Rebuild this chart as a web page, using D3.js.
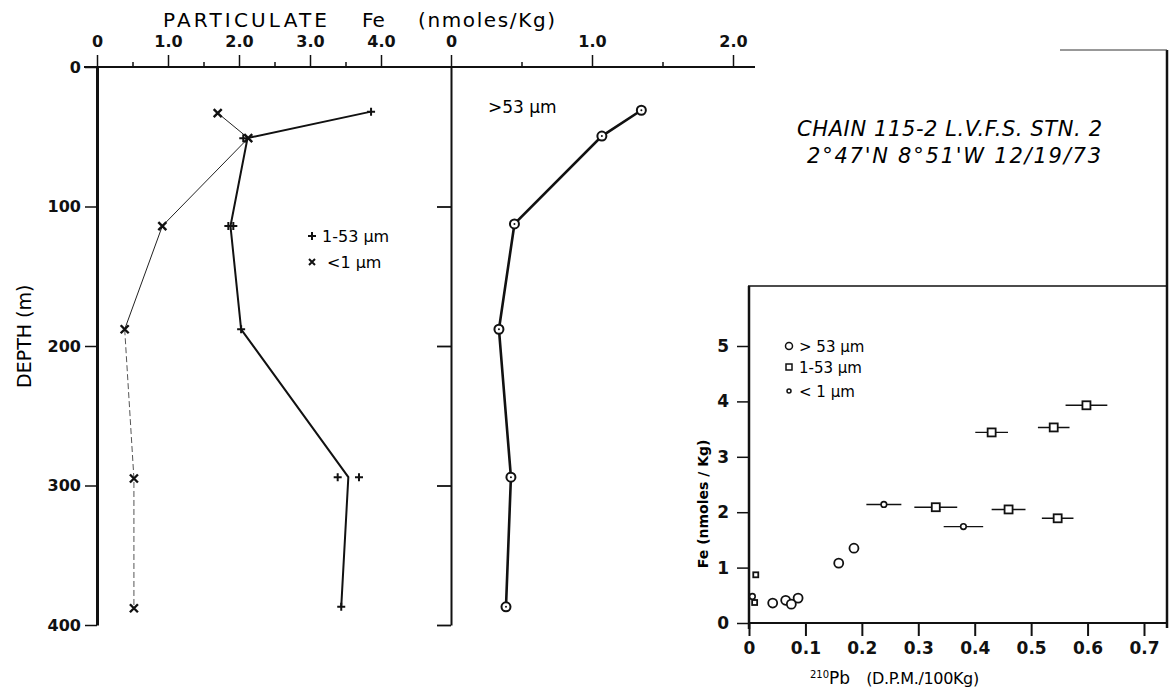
<!DOCTYPE html>
<html>
<head>
<meta charset="utf-8">
<script src="https://cdn.jsdelivr.net/npm/d3@7"></script>
<style>
  body { margin: 0; background: #fff; }
  svg { font-family: "DejaVu Sans", sans-serif; }
  .axis path, .axis line { stroke: #111; }
  .axis text { fill: #111; font-family: "DejaVu Sans", sans-serif; font-weight: bold; }
</style>
</head>
<body>
<div id="chart"></div>
<script>
// depth profile, 1-53 um (plus markers, replicate points)
const plusDepth = [32, 51, 114, 114, 188, 294, 294, 387];
const plusFe    = [3.86, 2.06, 1.85, 1.92, 2.03, 3.39, 3.69, 3.44];
const plusLineDepth = [32, 51, 114, 188, 294, 387];
const plusLineFe    = [3.86, 2.12, 1.88, 2.03, 3.54, 3.44];

// depth profile, <1 um (cross markers)
const crossDepth = [33, 51, 114, 188, 295, 388];
const crossFe    = [1.70, 2.13, 0.92, 0.39, 0.52, 0.52];

// depth profile, >53 um (right panel)
const bigDepth = [31, 49.5, 112.5, 188, 294, 387];
const bigFe    = [1.35, 1.07, 0.45, 0.34, 0.425, 0.39];

// inset: Fe vs 210Pb
const sBigPb = [0.159, 0.186, 0.087, 0.065, 0.075, 0.042];
const sBigFe = [1.08, 1.35, 0.45, 0.41, 0.34, 0.36];
const sMidPb  = [0.598, 0.54, 0.43, 0.331, 0.46, 0.547, 0.012, 0.010];
const sMidFe  = [3.93, 3.53, 3.44, 2.09, 2.05, 1.89, 0.87, 0.37];
const sMidErr = [0.037, 0.028, 0.029, 0.038, 0.030, 0.028, 0, 0];
const sSmallPb  = [0.239, 0.38, 0.006];
const sSmallFe  = [2.14, 1.74, 0.48];
const sSmallErr = [0.031, 0.035, 0];

const depthTicks = [0, 100, 200, 300, 400];
const pbTicks = [0, 0.1, 0.2, 0.3, 0.4, 0.5, 0.6, 0.7];
const feTicks = [0, 1, 2, 3, 4, 5];

const W = 1170, H = 692;
const svg = d3.select("#chart").append("svg")
  .attr("width", W).attr("height", H);

const xL = d3.scaleLinear().domain([0, 4]).range([97, 381]);
const xR = d3.scaleLinear().domain([0, 2]).range([451, 733]);
const yD = d3.scaleLinear().domain([0, 400]).range([67, 625]);
const xS = d3.scaleLinear().domain([0, 0.7]).range([749, 1144]);
const yS = d3.scaleLinear().domain([0, 5]).range([623, 346]);

// title
svg.append("text").attr("x", 163).attr("y", 27).attr("font-size", 20)
  .attr("textLength", 164).text("PARTICULATE");
svg.append("text").attr("x", 362).attr("y", 27).attr("font-size", 20).text("Fe");
svg.append("text").attr("x", 418).attr("y", 27).attr("font-size", 20)
  .attr("textLength", 137).text("(nmoles/Kg)");

// top axis line across both panels
svg.append("line").attr("x1", 84).attr("x2", 755).attr("y1", yD(0)).attr("y2", yD(0))
  .attr("stroke", "#111").attr("stroke-width", 2.2);

function topAxis(x, major, minor) {
  const g = svg.append("g").attr("class", "axis")
    .attr("transform", `translate(0,${yD(0)})`);
  g.call(d3.axisTop(x).tickValues(minor).tickSize(5).tickFormat(""))
    .select(".domain").remove();
  const g2 = svg.append("g").attr("class", "axis")
    .attr("transform", `translate(0,${yD(0)})`);
  g2.call(d3.axisTop(x).tickValues(major).tickSize(12).tickPadding(8)
      .tickFormat(d => d === 0 ? "0" : d3.format(".1f")(d)))
    .select(".domain").remove();
  g.selectAll("line").attr("stroke-width", 1.5);
  g2.selectAll("line").attr("stroke-width", 1.5);
  g2.selectAll("text").style("font-size", "16px");
}
topAxis(xL, [0, 1, 2, 3, 4], [0.5, 1.5, 2.5, 3.5]);
topAxis(xR, [0, 1, 2], [0.5, 1.5]);

// depth axes
const yAxL = svg.append("g").attr("class", "axis")
  .attr("transform", `translate(${xL(0)},0)`)
  .call(d3.axisLeft(yD).tickValues(depthTicks).tickSize(12).tickSizeOuter(0).tickPadding(4));
yAxL.select(".domain").attr("stroke-width", 3);
yAxL.selectAll("line").attr("stroke-width", 1.5);
yAxL.selectAll("text").style("font-size", "16px");

const yAxR = svg.append("g").attr("class", "axis")
  .attr("transform", `translate(${xR(0)},0)`)
  .call(d3.axisLeft(yD).tickValues(depthTicks.slice(1)).tickSize(14).tickSizeOuter(0).tickFormat(""));
yAxR.select(".domain").attr("stroke-width", 2);
yAxR.selectAll("line").attr("stroke-width", 1.8);

svg.append("text")
  .attr("transform", `translate(31,${yD(193)}) rotate(-90)`)
  .attr("text-anchor", "middle").attr("font-size", 19).text("DEPTH  (m)");

// profile lines
const line = d3.line();
const plusLine = plusLineDepth.map((d, i) => [xL(plusLineFe[i]), yD(d)]);
const crossLine = crossDepth.map((d, i) => [xL(crossFe[i]), yD(d)]);
const bigLine = bigDepth.map((d, i) => [xR(bigFe[i]), yD(d)]);

svg.append("path").attr("d", line(crossLine.slice(0, 4)))
  .attr("fill", "none").attr("stroke", "#222").attr("stroke-width", 1);
svg.append("path").attr("d", line(crossLine.slice(3)))
  .attr("fill", "none").attr("stroke", "#555").attr("stroke-width", 1)
  .attr("stroke-dasharray", "6,3");
svg.append("path").attr("d", line(plusLine))
  .attr("fill", "none").attr("stroke", "#111").attr("stroke-width", 2);
svg.append("path").attr("d", line(bigLine))
  .attr("fill", "none").attr("stroke", "#111").attr("stroke-width", 2.6);

// markers
const s = 4;
svg.append("g").selectAll("path.plus")
  .data(plusDepth.map((d, i) => [xL(plusFe[i]), yD(d)]))
  .join("path")
  .attr("d", p => `M${p[0] - s},${p[1]}H${p[0] + s}M${p[0]},${p[1] - s}V${p[1] + s}`)
  .attr("stroke", "#111").attr("stroke-width", 2);

svg.append("g").selectAll("path.cross")
  .data(crossLine)
  .join("path")
  .attr("d", p => `M${p[0] - s},${p[1] - s}L${p[0] + s},${p[1] + s}M${p[0] - s},${p[1] + s}L${p[0] + s},${p[1] - s}`)
  .attr("stroke", "#111").attr("stroke-width", 2.4);

const bigG = svg.append("g").selectAll("g").data(bigLine).join("g")
  .attr("transform", p => `translate(${p[0]},${p[1]})`);
bigG.append("circle").attr("r", 4.5).attr("fill", "#fff").attr("stroke", "#111").attr("stroke-width", 2);
bigG.append("circle").attr("r", 1).attr("fill", "#111");

// legend, left panel
svg.append("path")
  .attr("d", `M308,236H316M312,232V240`).attr("stroke", "#111").attr("stroke-width", 2);
svg.append("text").attr("x", 322).attr("y", 242).attr("font-size", 16).text("1-53 μm");
svg.append("path")
  .attr("d", `M309,259L315,265M309,265L315,259`).attr("stroke", "#111").attr("stroke-width", 2);
svg.append("text").attr("x", 327).attr("y", 268).attr("font-size", 16).text("<1  μm");

svg.append("text").attr("x", 488).attr("y", 113).attr("font-size", 17).text(">53 μm");

// station label
svg.append("text").attr("x", 797).attr("y", 136).attr("font-size", 21)
  .attr("font-style", "italic").attr("textLength", 305).text("CHAIN 115-2 L.V.F.S.  STN. 2");
svg.append("text").attr("x", 807).attr("y", 163).attr("font-size", 21)
  .attr("font-style", "italic").attr("textLength", 294).text("2°47'N   8°51'W  12/19/73");

// frame at right edge
svg.append("line").attr("x1", 1167).attr("x2", 1167).attr("y1", 50).attr("y2", 628)
  .attr("stroke", "#111").attr("stroke-width", 2.5);
svg.append("line").attr("x1", 1060).attr("x2", 1167).attr("y1", 50).attr("y2", 50)
  .attr("stroke", "#333").attr("stroke-width", 1);

// inset box
svg.append("line").attr("x1", 748).attr("x2", 1167).attr("y1", 286).attr("y2", 286)
  .attr("stroke", "#111").attr("stroke-width", 1.5);

const xAxS = svg.append("g").attr("class", "axis")
  .attr("transform", `translate(0,${yS(0)})`)
  .call(d3.axisBottom(xS).tickValues(pbTicks).tickSize(13).tickSizeOuter(0).tickPadding(6)
    .tickFormat(d => d === 0 ? "0" : d3.format(".1f")(d)));
xAxS.select(".domain").attr("d", `M${xS(0)},0H1167`).attr("stroke-width", 2);
xAxS.selectAll("line").attr("stroke-width", 2);
xAxS.selectAll("text").style("font-size", "17px");

const yAxS = svg.append("g").attr("class", "axis")
  .attr("transform", `translate(${xS(0)},0)`)
  .call(d3.axisLeft(yS).tickValues(feTicks).tickSize(12).tickSizeOuter(0).tickPadding(8)
    .tickFormat(d3.format("d")));
yAxS.select(".domain").attr("d", `M0,286V${yS(0) + 6}`).attr("stroke-width", 2.5);
yAxS.selectAll("line").attr("stroke-width", 1.5);
yAxS.selectAll("text").style("font-size", "17px");

svg.append("text")
  .attr("transform", `translate(708,${yS(2.15)}) rotate(-90)`)
  .attr("text-anchor", "middle").attr("font-size", 14).attr("font-weight", "bold")
  .text("Fe  (nmoles / Kg)");

const xlab = svg.append("text").attr("x", 810).attr("y", 684).attr("font-size", 16);
xlab.append("tspan").attr("font-size", 10).attr("dy", -6).text("210");
xlab.append("tspan").attr("dy", 6).attr("font-size", 17).text("Pb");
xlab.append("tspan").attr("dx", 16).attr("textLength", 113).text("(D.P.M./100Kg)");

// error bars
const errData = sMidPb.map((p, i) => ({ p, f: sMidFe[i], e: sMidErr[i] }))
  .concat(sSmallPb.map((p, i) => ({ p, f: sSmallFe[i], e: sSmallErr[i] })))
  .filter(d => d.e > 0);
svg.append("g").selectAll("line").data(errData).join("line")
  .attr("x1", d => xS(d.p - d.e)).attr("x2", d => xS(d.p + d.e))
  .attr("y1", d => yS(d.f)).attr("y2", d => yS(d.f))
  .attr("stroke", "#111").attr("stroke-width", 1.4);

svg.append("g").selectAll("circle").data(sBigPb).join("circle")
  .attr("cx", d => xS(d)).attr("cy", (d, i) => yS(sBigFe[i])).attr("r", 4.5)
  .attr("fill", "#fff").attr("stroke", "#111").attr("stroke-width", 1.8);

svg.append("g").selectAll("rect").data(sMidPb).join("rect")
  .attr("x", d => xS(d) - (d < 0.05 ? 2.5 : 4))
  .attr("y", (d, i) => yS(sMidFe[i]) - (d < 0.05 ? 2.5 : 4))
  .attr("width", d => d < 0.05 ? 5 : 8).attr("height", d => d < 0.05 ? 5 : 8)
  .attr("fill", "#fff").attr("stroke", "#111").attr("stroke-width", 1.8);

svg.append("g").selectAll("circle").data(sSmallPb).join("circle")
  .attr("cx", d => xS(d)).attr("cy", (d, i) => yS(sSmallFe[i])).attr("r", 2.8)
  .attr("fill", "#fff").attr("stroke", "#111").attr("stroke-width", 1.6);

// inset legend
const lg = svg.append("g").attr("font-size", 15);
lg.append("circle").attr("cx", 789).attr("cy", 346).attr("r", 3.5)
  .attr("fill", "none").attr("stroke", "#111").attr("stroke-width", 1.5);
lg.append("text").attr("x", 799).attr("y", 352).text("> 53 μm");
lg.append("rect").attr("x", 786).attr("y", 364).attr("width", 6).attr("height", 6)
  .attr("fill", "none").attr("stroke", "#111").attr("stroke-width", 1.5);
lg.append("text").attr("x", 799).attr("y", 373).text("1-53 μm");
lg.append("circle").attr("cx", 789).attr("cy", 391).attr("r", 2)
  .attr("fill", "none").attr("stroke", "#111").attr("stroke-width", 1.5);
lg.append("text").attr("x", 799).attr("y", 397).text("<  1  μm");
</script>
</body>
</html>
